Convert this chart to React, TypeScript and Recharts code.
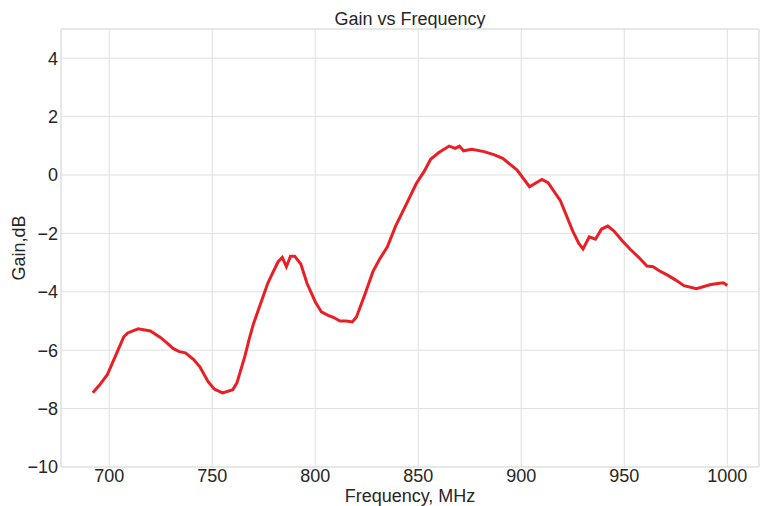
import { LineChart, Line, XAxis, YAxis, CartesianGrid, ReferenceArea } from 'recharts'

const freqs = [
  692, 695, 699, 703, 707, 709, 714, 720, 725, 728, 731, 734, 737, 741, 744, 748, 751, 755, 760, 762,
  766, 768, 770, 772, 775, 777, 779, 782, 784, 786, 788, 790, 793, 796, 800, 803, 806, 809, 812, 815,
  818, 820, 824, 828, 831, 835, 839, 844, 849, 853, 856, 860, 865, 868, 870, 872, 876, 882, 887, 891,
  898, 904, 910, 913, 919, 925, 928, 930, 933, 936, 939, 942, 945, 949, 953, 957, 961, 964, 967, 971,
  975, 979, 985, 992, 998, 1000,
]
const gains = [
  -7.46, -7.22, -6.85, -6.2, -5.55, -5.41, -5.27, -5.34, -5.57, -5.75, -5.94, -6.05, -6.09, -6.32, -6.57, -7.08, -7.33, -7.46, -7.35, -7.12,
  -6.17, -5.6, -5.1, -4.7, -4.1, -3.7, -3.4, -2.97, -2.82, -3.14, -2.78, -2.78, -3.05, -3.71, -4.34, -4.69, -4.8, -4.88, -5.0, -5.0,
  -5.03, -4.86, -4.11, -3.31, -2.91, -2.46, -1.75, -1.03, -0.3, 0.14, 0.54, 0.77, 0.99, 0.91, 0.99, 0.83, 0.88, 0.8, 0.69, 0.57,
  0.17, -0.4, -0.15, -0.26, -0.88, -1.92, -2.35, -2.53, -2.12, -2.2, -1.85, -1.75, -1.92, -2.25, -2.55, -2.82, -3.12, -3.14, -3.28, -3.43,
  -3.6, -3.79, -3.89, -3.75, -3.69, -3.78,
]
const xTicks = [700, 750, 800, 850, 900, 950, 1000]
const yTicks = [-10, -8, -6, -4, -2, 0, 2, 4]
const xDomain = [676.6, 1015.4]
const yDomain = [-10, 5]

const data = freqs.map((f, i) => ({ freq: f, gain: gains[i] }))

const font = '"Liberation Sans", Arial, sans-serif'
const textColor = '#262626'
const gridColor = '#dfdfdf'

// matplotlib draws a real minus sign
const fmtTick = (v: number) => String(v).replace('-', '\u2212')

export default function App() {
  return (
    <div style={{ position: 'absolute', left: 0, top: 0, width: 767, height: 506, background: '#fff', fontFamily: font }}>
      {/* title */}
      <div style={{
        position: 'absolute', left: 61, width: 698, top: 8, textAlign: 'center',
        fontSize: 18, color: textColor, lineHeight: '22px',
      }}>
        Gain vs Frequency
      </div>
      <LineChart width={767} height={506} data={data} margin={{ top: 29, right: 8, bottom: 0, left: 0 }}>
        <CartesianGrid stroke={gridColor} strokeWidth={1} />
        <XAxis
          type="number" dataKey="freq" domain={xDomain} ticks={xTicks} allowDataOverflow
          height={39} tickSize={0} tickMargin={2} axisLine={false}
          tick={{ fontSize: 18, fill: textColor, fontFamily: font }}
          label={{ value: 'Frequency, MHz', position: 'insideBottom', offset: 4, fontSize: 18, fill: textColor, fontFamily: font }}
        />
        <YAxis
          type="number" domain={yDomain} ticks={yTicks} allowDataOverflow
          width={61} tickSize={0} tickMargin={3} axisLine={false} tickFormatter={fmtTick}
          tick={{ fontSize: 18, fill: textColor, fontFamily: font }}
          label={{ value: 'Gain,dB', angle: -90, position: 'insideLeft', offset: 19, fontSize: 18, fill: textColor, fontFamily: font, style: { textAnchor: 'middle' } }}
        />
        <ReferenceArea x1={xDomain[0]} x2={xDomain[1]} y1={yDomain[0]} y2={yDomain[1]} fill="none" stroke={gridColor} strokeWidth={1} />
        <Line
          type="linear" dataKey="gain" stroke="#ea1f26" strokeWidth={3}
          dot={false} isAnimationActive={false}
        />
      </LineChart>
    </div>
  )
}
